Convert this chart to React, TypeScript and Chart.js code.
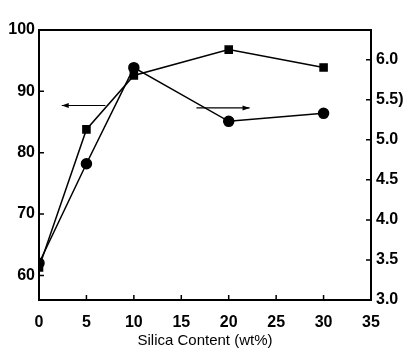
import React, { useEffect, useRef } from "react";
import { Chart, registerables } from "chart.js";
Chart.register(...registerables);

const silicaContent = [0, 5, 10, 20, 30];
const leftSeries = [61.3, 83.8, 92.6, 96.8, 93.9];
const rightSeries = [3.46, 4.7, 5.9, 5.23, 5.33];
const xTicks = [0, 5, 10, 15, 20, 25, 30, 35];
const leftTicks = [60, 70, 80, 90, 100];
const rightTicks = [3.0, 3.5, 4.0, 4.5, 5.0, 5.5, 6.0];
const rightTickLabels = ["3.0", "3.5", "4.0", "4.5", "5.0", "5.5)", "6.0"];
const xTitle = "Silica Content (wt%)";

const FONT = "'Liberation Sans', Arial, sans-serif";

const framePlugin = {
  id: "frame",
  afterDraw(chart: any) {
    const { ctx, chartArea: a, scales } = chart;
    const x = scales.x, y = scales.y, y1 = scales.y1;
    ctx.save();
    ctx.strokeStyle = "#000";
    ctx.lineWidth = 2;
    ctx.strokeRect(a.left, a.top, a.right - a.left, a.bottom - a.top);
    ctx.lineWidth = 1.5;
    ctx.beginPath();
    xTicks.forEach((v) => {
      const px = x.getPixelForValue(v);
      ctx.moveTo(px, a.bottom);
      ctx.lineTo(px, a.bottom - 5);
    });
    leftTicks.forEach((v) => {
      const py = y.getPixelForValue(v);
      ctx.moveTo(a.left, py);
      ctx.lineTo(a.left + 5, py);
    });
    rightTicks.forEach((v) => {
      const py = y1.getPixelForValue(v);
      ctx.moveTo(a.right, py);
      ctx.lineTo(a.right - 5, py);
    });
    ctx.stroke();
    const arrow = (x0: number, x1: number, yv: number) => {
      const px0 = x.getPixelForValue(x0);
      const px1 = x.getPixelForValue(x1);
      const py = y.getPixelForValue(yv);
      const dir = Math.sign(px1 - px0);
      ctx.lineWidth = 1.2;
      ctx.beginPath();
      ctx.moveTo(px0, py);
      ctx.lineTo(px1, py);
      ctx.stroke();
      ctx.beginPath();
      ctx.moveTo(px1, py);
      ctx.lineTo(px1 - dir * 7, py - 2.5);
      ctx.lineTo(px1 - dir * 7, py + 2.5);
      ctx.closePath();
      ctx.fillStyle = "#000";
      ctx.fill();
    };
    arrow(7, 2.4, 87.7);
    arrow(16.6, 22.2, 87.3);
    ctx.restore();
  },
};

export default function App() {
  const ref = useRef<HTMLCanvasElement>(null);
  useEffect(() => {
    if (!ref.current) return;
    const tickFont = { family: FONT, size: 16, weight: "bold" };
    const chart = new Chart(ref.current, {
      type: "line",
      data: {
        datasets: [
          {
            data: silicaContent.map((x, i) => ({ x, y: leftSeries[i] })),
            yAxisID: "y",
            borderColor: "#000",
            backgroundColor: "#000",
            borderWidth: 1.5,
            pointStyle: "rect",
            pointRadius: 5,
            pointBackgroundColor: "#000",
            pointBorderColor: "#000",
          },
          {
            data: silicaContent.map((x, i) => ({ x, y: rightSeries[i] })),
            yAxisID: "y1",
            borderColor: "#000",
            backgroundColor: "#000",
            borderWidth: 1.5,
            pointStyle: "circle",
            pointRadius: 5,
            pointBackgroundColor: "#000",
            pointBorderColor: "#000",
          },
        ],
      },
      options: {
        animation: false,
        responsive: false,
        maintainAspectRatio: false,
        layout: { padding: { top: 30, left: 0, right: 0, bottom: 0 } },
        plugins: { legend: { display: false }, tooltip: { enabled: false } },
        scales: {
          x: {
            type: "linear",
            min: 0,
            max: 35,
            grid: { display: false, drawTicks: false },
            border: { display: false },
            afterBuildTicks: (s: any) => { s.ticks = xTicks.map((v) => ({ value: v })); },
            afterFit: (s: any) => { s.height = 54; },
            ticks: { color: "#000", padding: 13, font: tickFont, maxRotation: 0 },
            title: { display: true, text: xTitle, color: "#000", font: { family: FONT, size: 15 }, padding: { top: 0, bottom: 4 } },
          },
          y: {
            type: "linear",
            position: "left",
            min: 56,
            max: 100,
            grid: { display: false, drawTicks: false },
            border: { display: false },
            afterBuildTicks: (s: any) => { s.ticks = leftTicks.map((v) => ({ value: v })); },
            afterFit: (s: any) => { s.width = 39; },
            ticks: { color: "#000", padding: 4, font: tickFont },
          },
          y1: {
            type: "linear",
            position: "right",
            min: 3.0,
            max: 6.37,
            grid: { display: false, drawTicks: false },
            border: { display: false },
            afterBuildTicks: (s: any) => { s.ticks = rightTicks.map((v) => ({ value: v })); },
            afterFit: (s: any) => { s.width = 37; },
            ticks: {
              color: "#000",
              padding: 5,
              font: tickFont,
              callback: (v: any) => {
                const i = rightTicks.findIndex((t) => Math.abs(t - v) < 1e-6);
                return i >= 0 ? rightTickLabels[i] : "";
              },
            },
          },
        },
      },
      plugins: [framePlugin],
    } as any);
    return () => chart.destroy();
  }, []);
  return (
    <div style={{ position: "fixed", left: 0, top: 0, width: 408, height: 354, background: "#fff" }}>
      <canvas ref={ref} width={408} height={354} style={{ width: 408, height: 354, display: "block" }} />
    </div>
  );
}
